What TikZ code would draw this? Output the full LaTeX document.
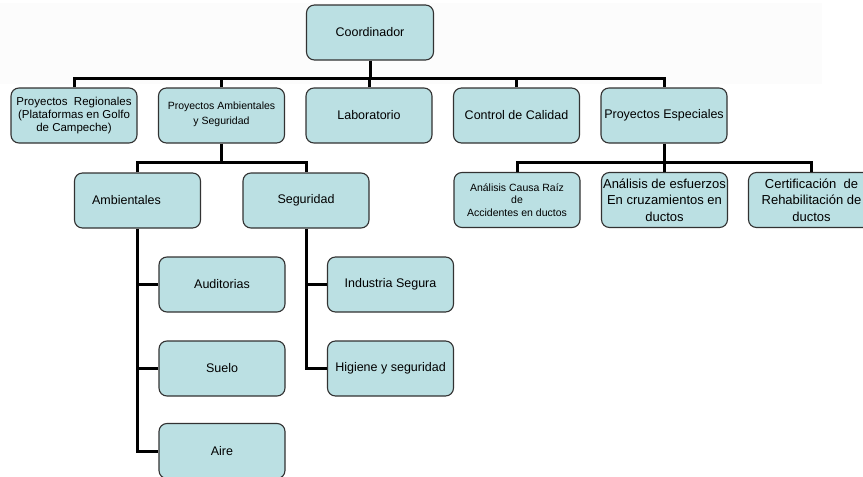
\documentclass[tikz,border=0pt]{standalone}
\usepackage{fontspec}
\setmainfont{Liberation Sans}
\definecolor{boxfill}{RGB}{187,224,227}
\definecolor{boxline}{RGB}{50,50,50}
\tikzset{
  orgbox/.style={draw=boxline, line width=1.1pt, fill=boxfill, rounded corners=8pt,
    minimum width=126pt, minimum height=55pt, align=center, inner sep=1pt,
    font=\fontsize{12.5}{15}\selectfont},
  conn/.style={line width=3pt, black, line join=miter}
}
\begin{document}
\begin{tikzpicture}[x=1pt,y=-1pt]
\useasboundingbox (0,0) rectangle (863,477);
\fill[gray!2.5] (0,3) rectangle (822,84);
% nodes
\node[orgbox, minimum width=127pt] (coord) at (370,32.5) {Coordinador};
\node[orgbox, font=\fontsize{11.5}{13.3}\selectfont] (pr) at (74,115.5) {Proyectos\ \ Regionales\\(Plataformas en Golfo\\de Campeche)};
\node[orgbox, font=\fontsize{10.5}{15}\selectfont, text depth=4pt] (pas) at (221.5,115.5) {Proyectos Ambientales\\y Seguridad};
\node[orgbox] (lab) at (369,115.5) {Laboratorio};
\node[orgbox] (cc) at (516.5,115.5) {Control de Calidad};
\node[orgbox] (pe) at (664,115.5) {Proyectos Especiales};
\node[orgbox] (amb) at (137.5,200.5) {Ambientales\hspace*{22pt}};
\node[orgbox] (seg) at (306,200.5) {Seguridad};
\node[orgbox] (aud) at (222,284.5) {Auditorias};
\node[orgbox] (sue) at (222,368.5) {Suelo};
\node[orgbox] (aire) at (222,451) {Aire};
\node[orgbox] (ind) at (390.5,284.5) {Industria Segura};
\node[orgbox] (hig) at (390.5,368.5) {Higiene y seguridad};
\node[orgbox, font=\fontsize{10.5}{12.5}\selectfont] (acr) at (517,200) {Análisis Causa Raíz\\de\\Accidentes en ductos};
\node[orgbox, font=\fontsize{13}{16.5}\selectfont] (ae) at (664.5,200) {Análisis de esfuerzos\\En cruzamientos en\\ductos};
\node[orgbox, font=\fontsize{13}{16.5}\selectfont] (cert) at (811.5,200) {Certificación\ \ de\\Rehabilitación de\\ductos};
% bar coordinates
\coordinate (b1) at (0,78);
\coordinate (b2) at (0,162);
% top level connectors
\draw[conn] (coord.south) -- (coord.south |- b1);
\draw[conn] (pr.north) -- (pr.north |- b1) -- (pe.north |- b1) -- (pe.north);
\draw[conn] (pas.north) -- (pas.north |- b1);
\draw[conn] (lab.north) -- (lab.north |- b1);
\draw[conn] (cc.north) -- (cc.north |- b1);
% Proyectos Ambientales branch
\draw[conn] (pas.south) -- (pas.south |- b2);
\draw[conn] (amb.north) -- (amb.north |- b2) -- (seg.north |- b2) -- (seg.north);
% Proyectos Especiales branch
\draw[conn] (pe.south) -- (pe.south |- b2);
\draw[conn] (acr.north) -- (acr.north |- b2) -- (cert.north |- b2) -- (cert.north);
\draw[conn] (ae.north) -- (ae.north |- b2);
% Ambientales children
\draw[conn] (amb.south) -- (amb.south |- aire.west) -- (aire.west);
\draw[conn] (amb.south |- aud.west) -- (aud.west);
\draw[conn] (amb.south |- sue.west) -- (sue.west);
% Seguridad children
\draw[conn] (seg.south) -- (seg.south |- hig.west) -- (hig.west);
\draw[conn] (seg.south |- ind.west) -- (ind.west);
\end{tikzpicture}
\end{document}
